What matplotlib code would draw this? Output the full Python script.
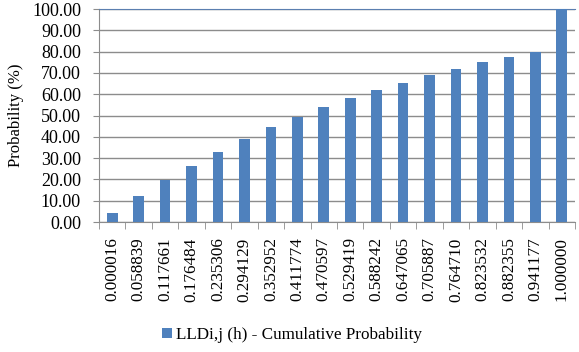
import matplotlib
matplotlib.use("Agg")
import matplotlib.pyplot as plt
import numpy as np

plt.rcParams['font.family'] = ['Liberation Serif', 'DejaVu Serif']

# normalised leak-level bins and their cumulative probability (%)
lld_bins = ["0.000016", "0.058839", "0.117661", "0.176484", "0.235306",
            "0.294129", "0.352952", "0.411774", "0.470597", "0.529419",
            "0.588242", "0.647065", "0.705887", "0.764710", "0.823532",
            "0.882355", "0.941177", "1.000000"]
cum_prob = [4.1, 12.4, 19.6, 26.3, 32.9, 39.0, 44.5, 49.2, 53.9, 58.1,
            61.8, 65.4, 68.9, 72.0, 75.0, 77.3, 79.9, 100.0]

bar_color = "#4f81bd"

fig = plt.figure(figsize=(5.79, 3.52), dpi=100)
ax = fig.add_axes([99 / 579, 1 - 222 / 352, 476 / 579, 213 / 352])

x = np.arange(len(lld_bins))
ax.bar(x, cum_prob, width=0.4, color=bar_color, zorder=3,
       label="LLDi,j (h) - Cumulative Probability")

ax.set_xlim(-0.5, len(lld_bins) - 0.5)
ax.set_ylim(0, 100)
ax.set_yticks(np.arange(0, 101, 10))
ax.set_yticklabels([f"{v:.2f}" for v in np.arange(0, 101, 10)], fontsize=13)
ax.yaxis.grid(True, color="#8c8c8c", linewidth=1.0, zorder=0)
ax.set_axisbelow(True)

# category labels centred on bars, tick marks on category boundaries
ax.set_xticks(x)
ax.set_xticklabels(lld_bins, rotation=90, fontsize=12.3)
ax.tick_params(axis="x", length=0, pad=11)
ax.set_xticks(np.arange(-0.5, len(lld_bins)), minor=True)
ax.tick_params(axis="x", which="minor", length=5, color="#8c8c8c", direction="out")
ax.tick_params(axis="y", length=4, color="#8c8c8c", direction="out", pad=9)

for side in ["left", "bottom"]:
    ax.spines[side].set_color("#8c8c8c")
ax.spines["top"].set_color("#5b7fb0")
ax.spines["right"].set_visible(False)

ax.set_ylabel("Probability (%)", fontsize=12, labelpad=6)

fig.legend(loc="center", bbox_to_anchor=(292 / 579, 1 - 335 / 352),
           frameon=False, fontsize=12.3, handlelength=0.6, handleheight=0.6,
           handletextpad=0.25)

fig.savefig("out.png", dpi=100)
